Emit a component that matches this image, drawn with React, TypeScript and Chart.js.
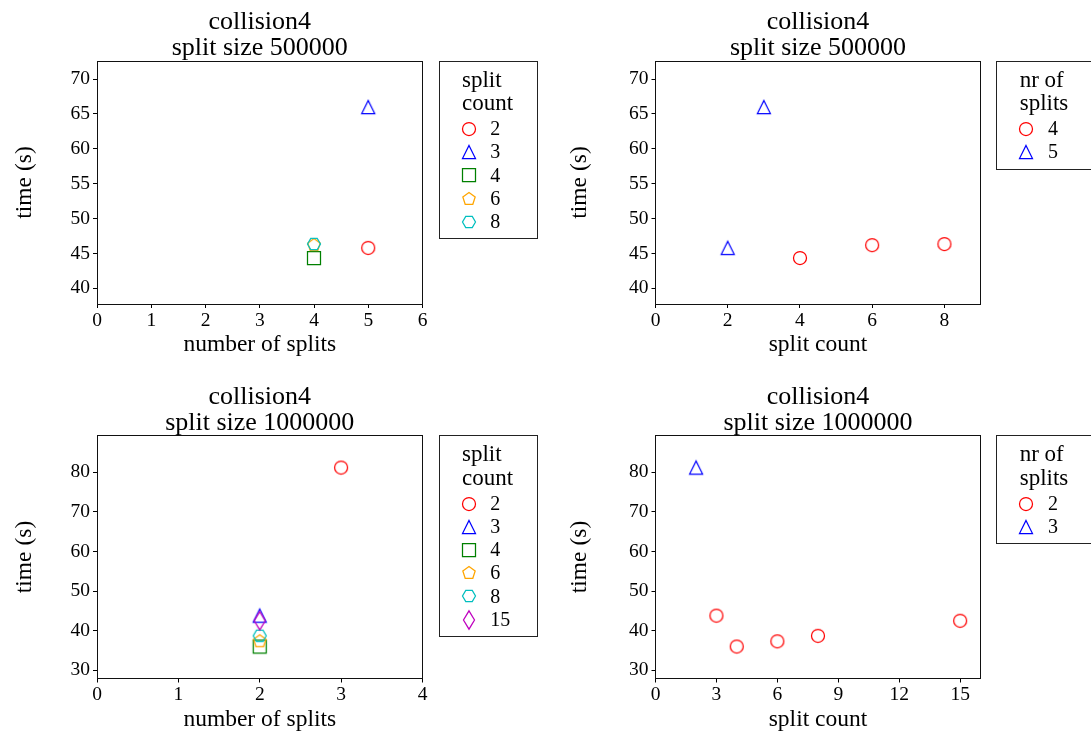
import React, { useEffect, useRef } from 'react';
import { Chart, registerables } from 'chart.js';

Chart.register(...registerables);

const FONT = "'Liberation Serif', 'Times New Roman', Times, serif";

// Runs with split size 500000: one entry per run
const SPLIT_COUNT_500K = [2, 3, 4, 6, 8];
const NUM_SPLITS_500K = [5, 5, 4, 4, 4];
const TIME_500K = [45.8, 66.0, 44.35, 46.2, 46.35];

// Runs with split size 1000000
const SPLIT_COUNT_1M = [2, 3, 4, 6, 8, 15];
const NUM_SPLITS_1M = [3, 2, 2, 2, 2, 2];
const TIME_1M = [81.2, 43.8, 36.0, 37.3, 38.7, 42.5];

// Axis ranges and tick labels
const Y_RANGE_500K = [37.75, 72.6];
const Y_RANGE_1M = [27.9, 89.3];
const Y_TICKS_500K = [40, 45, 50, 55, 60, 65, 70];
const Y_TICKS_1M = [30, 40, 50, 60, 70, 80];
const X_RANGE_SPLITS_500K = [0, 6];
const X_TICKS_SPLITS_500K = [0, 1, 2, 3, 4, 5, 6];
const X_RANGE_COUNT_500K = [0, 9];
const X_TICKS_COUNT_500K = [0, 2, 4, 6, 8];
const X_RANGE_SPLITS_1M = [0, 4];
const X_TICKS_SPLITS_1M = [0, 1, 2, 3, 4];
const X_RANGE_COUNT_1M = [0, 16];
const X_TICKS_COUNT_1M = [0, 3, 6, 9, 12, 15];

type Shape = 'circle' | 'triangle' | 'square' | 'pentagon' | 'hexagon' | 'thinDiamond';
type Style = { shape: Shape; color: string };
type Pt = { x: number; y: number };
type Series = { label: string; style: Style; points: Pt[] };

const COUNT_STYLE: Record<number, Style> = {
  2: { shape: 'circle', color: '#ff0000' },
  3: { shape: 'triangle', color: '#0000ff' },
  4: { shape: 'square', color: '#008000' },
  6: { shape: 'pentagon', color: '#ffa500' },
  8: { shape: 'hexagon', color: '#00bfbf' },
  15: { shape: 'thinDiamond', color: '#bf00bf' },
};
const SPLITS_STYLE: Style[] = [
  { shape: 'circle', color: '#ff0000' },
  { shape: 'triangle', color: '#0000ff' },
];

function seriesByCount(counts: number[], splits: number[], times: number[]): Series[] {
  return counts.map((c, i) => ({
    label: String(c),
    style: COUNT_STYLE[c],
    points: [{ x: splits[i], y: times[i] }],
  }));
}

function seriesBySplits(counts: number[], splits: number[], times: number[]): Series[] {
  const groups = Array.from(new Set(splits)).sort((a, b) => a - b);
  return groups.map((s, gi) => ({
    label: String(s),
    style: SPLITS_STYLE[gi],
    points: counts
      .map((c, i) => ({ x: c, y: times[i], s: splits[i] }))
      .filter((p) => p.s === s)
      .map(({ x, y }) => ({ x, y })),
  }));
}

// Outline marker sprites, sized like markersize 13 with a thin edge
const MARK = 13;
const SPRITE = 24;
const spriteCache = new Map<string, HTMLCanvasElement>();
function markerSprite(style: Style): HTMLCanvasElement {
  const key = style.shape + style.color;
  const hit = spriteCache.get(key);
  if (hit) return hit;
  const c = document.createElement('canvas');
  c.width = SPRITE;
  c.height = SPRITE;
  const g = c.getContext('2d')!;
  g.translate(SPRITE / 2, SPRITE / 2);
  g.strokeStyle = style.color;
  g.lineWidth = 1.25;
  g.lineJoin = 'miter';
  const h = MARK / 2;
  g.beginPath();
  const poly = (n: number, r: number, start: number) => {
    for (let k = 0; k < n; k++) {
      const a = start + (k * 2 * Math.PI) / n;
      const px = r * Math.cos(a);
      const py = r * Math.sin(a);
      if (k === 0) g.moveTo(px, py);
      else g.lineTo(px, py);
    }
    g.closePath();
  };
  switch (style.shape) {
    case 'circle':
      g.arc(0, 0, h, 0, Math.PI * 2);
      break;
    case 'triangle':
      g.moveTo(0, -h);
      g.lineTo(h, h);
      g.lineTo(-h, h);
      g.closePath();
      break;
    case 'square':
      g.rect(-h, -h, MARK, MARK);
      break;
    case 'pentagon':
      poly(5, h, -Math.PI / 2);
      break;
    case 'hexagon':
      poly(6, h, 0);
      break;
    case 'thinDiamond': {
      const dy = h * Math.SQRT2;
      const dx = dy * 0.6;
      g.moveTo(0, -dy);
      g.lineTo(dx, 0);
      g.lineTo(0, dy);
      g.lineTo(-dx, 0);
      g.closePath();
      break;
    }
  }
  g.stroke();
  spriteCache.set(key, c);
  return c;
}

type Panel = {
  id: string;
  canvas: { x: number; y: number; w: number; h: number };
  plot: { l: number; t: number; r: number; b: number };
  title: string[];
  xLabel: string;
  xRange: number[];
  xTicks: number[];
  yRange: number[];
  yTicks: number[];
  yTitleX: number;
  legendTitle: string[];
  legendLeft: number;
  series: Series[];
};

const PANELS: Panel[] = [
  {
    id: 'splits-500k',
    canvas: { x: 0, y: 0, w: 545, h: 366 },
    plot: { l: 97, t: 61, r: 422.5, b: 304 },
    title: ['collision4', 'split size 500000'],
    xLabel: 'number of splits',
    xRange: X_RANGE_SPLITS_500K,
    xTicks: X_TICKS_SPLITS_500K,
    yRange: Y_RANGE_500K,
    yTicks: Y_TICKS_500K,
    yTitleX: 24.5,
    legendTitle: ['split', 'count'],
    legendLeft: 439,
    series: seriesByCount(SPLIT_COUNT_500K, NUM_SPLITS_500K, TIME_500K),
  },
  {
    id: 'count-500k',
    canvas: { x: 545, y: 0, w: 546, h: 366 },
    plot: { l: 655.5, t: 61, r: 980.5, b: 304 },
    title: ['collision4', 'split size 500000'],
    xLabel: 'split count',
    xRange: X_RANGE_COUNT_500K,
    xTicks: X_TICKS_COUNT_500K,
    yRange: Y_RANGE_500K,
    yTicks: Y_TICKS_500K,
    yTitleX: 580,
    legendTitle: ['nr of', 'splits'],
    legendLeft: 996.7,
    series: seriesBySplits(SPLIT_COUNT_500K, NUM_SPLITS_500K, TIME_500K),
  },
  {
    id: 'splits-1m',
    canvas: { x: 0, y: 366, w: 545, h: 367 },
    plot: { l: 97, t: 435.5, r: 422.5, b: 678.5 },
    title: ['collision4', 'split size 1000000'],
    xLabel: 'number of splits',
    xRange: X_RANGE_SPLITS_1M,
    xTicks: X_TICKS_SPLITS_1M,
    yRange: Y_RANGE_1M,
    yTicks: Y_TICKS_1M,
    yTitleX: 24.5,
    legendTitle: ['split', 'count'],
    legendLeft: 439,
    series: seriesByCount(SPLIT_COUNT_1M, NUM_SPLITS_1M, TIME_1M),
  },
  {
    id: 'count-1m',
    canvas: { x: 545, y: 366, w: 546, h: 367 },
    plot: { l: 655.5, t: 435.5, r: 980.5, b: 678.5 },
    title: ['collision4', 'split size 1000000'],
    xLabel: 'split count',
    xRange: X_RANGE_COUNT_1M,
    xTicks: X_TICKS_COUNT_1M,
    yRange: Y_RANGE_1M,
    yTicks: Y_TICKS_1M,
    yTitleX: 580,
    legendTitle: ['nr of', 'splits'],
    legendLeft: 996.7,
    series: seriesBySplits(SPLIT_COUNT_1M, NUM_SPLITS_1M, TIME_1M),
  },
];

const TICK_SIZE = 19.5;
const AXIS_TITLE_SIZE = 23.5;
const TITLE_SIZE = 26;
const LEGEND_TITLE_SIZE = 23;
const LEGEND_ITEM_SIZE = 20;

const crisp = (v: number) => Math.floor(v) + 0.5;

// Frame, two-line title and boxed legend for one panel
function makeDecor(p: Panel) {
  const ox = p.canvas.x;
  const oy = p.canvas.y;
  return {
    id: 'panelDecor',
    afterDatasetsDraw(chart: Chart) {
      const { ctx, chartArea: a } = chart;
      ctx.save();
      ctx.strokeStyle = '#111';
      ctx.lineWidth = 1;
      ctx.strokeRect(crisp(a.left), crisp(a.top), crisp(a.right) - crisp(a.left), crisp(a.bottom) - crisp(a.top));

      // title
      ctx.fillStyle = '#000';
      ctx.font = `${TITLE_SIZE}px ${FONT}`;
      ctx.textAlign = 'center';
      ctx.textBaseline = 'alphabetic';
      const cx = (a.left + a.right) / 2;
      ctx.fillText(p.title[0], cx, a.top - 32);
      ctx.fillText(p.title[1], cx, a.top - 6);

      // legend
      const t = p.plot.t - oy;
      const bl = p.legendLeft - ox;
      const step = 23.2;
      const firstRow = t + 68;
      const bb = firstRow + (p.series.length - 1) * step + 17;
      ctx.fillStyle = '#fff';
      ctx.fillRect(crisp(bl), crisp(t), 98, crisp(bb) - crisp(t));
      ctx.strokeStyle = '#222';
      ctx.strokeRect(crisp(bl), crisp(t), 98, crisp(bb) - crisp(t));
      ctx.fillStyle = '#000';
      ctx.textAlign = 'left';
      ctx.font = `${LEGEND_TITLE_SIZE}px ${FONT}`;
      ctx.fillText(p.legendTitle[0], bl + 23, t + 25.7);
      ctx.fillText(p.legendTitle[1], bl + 23, t + 49);
      ctx.font = `${LEGEND_ITEM_SIZE}px ${FONT}`;
      ctx.textBaseline = 'middle';
      p.series.forEach((s, i) => {
        const ry = firstRow + i * step;
        const img = markerSprite(s.style);
        ctx.drawImage(img, Math.round(bl + 29.6 - SPRITE / 2), Math.round(ry - SPRITE / 2));
        ctx.fillText(s.label, bl + 51.3, ry + 1);
      });
      ctx.restore();
    },
  };
}

function buildConfig(p: Panel): any {
  const L = p.plot.l - p.canvas.x;
  const T = p.plot.t - p.canvas.y;
  const R = p.canvas.x + p.canvas.w - p.plot.r;
  const B = p.canvas.y + p.canvas.h - p.plot.b;
  const yTitlePad = p.yTitleX - p.canvas.x - AXIS_TITLE_SIZE / 2;
  const xTitleCenter = p.plot.b + 41 - p.canvas.y;
  const xTitlePad = p.canvas.h - xTitleCenter - AXIS_TITLE_SIZE / 2;

  const tickFont = { family: FONT, size: TICK_SIZE };
  const grid = { drawOnChartArea: false, drawTicks: true, tickLength: 4, color: '#000', lineWidth: 1 };

  return {
    type: 'scatter',
    data: {
      datasets: p.series.map((s, i) => ({
        label: s.label,
        data: s.points,
        pointStyle: markerSprite(s.style),
        pointRadius: 7,
        pointHoverRadius: 7,
        borderColor: s.style.color,
        backgroundColor: 'transparent',
        showLine: false,
        order: -i,
      })),
    },
    options: {
      responsive: false,
      animation: false,
      events: [],
      layout: { padding: { left: 0, top: T, right: R, bottom: 0 } },
      plugins: { legend: { display: false }, tooltip: { enabled: false }, title: { display: false } },
      scales: {
        x: {
          type: 'linear',
          position: 'bottom',
          min: p.xRange[0],
          max: p.xRange[1],
          afterBuildTicks: (s: any) => {
            s.ticks = p.xTicks.map((v) => ({ value: v }));
          },
          afterFit: (s: any) => {
            s.height = B;
          },
          grid,
          border: { display: false },
          ticks: { font: tickFont, color: '#000', padding: 1, autoSkip: false, maxRotation: 0, callback: (v: any) => String(v) },
          title: {
            display: true,
            text: p.xLabel,
            color: '#000',
            font: { family: FONT, size: AXIS_TITLE_SIZE, lineHeight: 1 },
            padding: { top: 0, bottom: xTitlePad },
          },
        },
        y: {
          type: 'linear',
          position: 'left',
          min: p.yRange[0],
          max: p.yRange[1],
          afterBuildTicks: (s: any) => {
            s.ticks = p.yTicks.map((v) => ({ value: v }));
          },
          afterFit: (s: any) => {
            s.width = L;
          },
          grid,
          border: { display: false },
          ticks: { font: tickFont, color: '#000', padding: 3, autoSkip: false, maxRotation: 0, callback: (v: any) => String(v) },
          title: {
            display: true,
            text: 'time (s)',
            color: '#000',
            font: { family: FONT, size: AXIS_TITLE_SIZE, lineHeight: 1 },
            padding: { top: yTitlePad, bottom: 0 },
          },
        },
      },
    },
    plugins: [makeDecor(p)],
  };
}

function PanelChart({ panel }: { panel: Panel }) {
  const ref = useRef<HTMLCanvasElement>(null);
  useEffect(() => {
    if (!ref.current) return;
    const chart = new Chart(ref.current, buildConfig(panel));
    return () => chart.destroy();
  }, [panel]);
  return (
    <canvas
      ref={ref}
      width={panel.canvas.w}
      height={panel.canvas.h}
      style={{
        position: 'absolute',
        left: panel.canvas.x,
        top: panel.canvas.y,
        width: panel.canvas.w,
        height: panel.canvas.h,
      }}
    />
  );
}

export default function App() {
  useEffect(() => {
    document.body.style.margin = '0';
  }, []);
  return (
    <div
      style={{
        position: 'absolute',
        left: 0,
        top: 0,
        width: 1091,
        height: 733,
        background: '#fff',
        overflow: 'hidden',
      }}
    >
      {PANELS.map((p) => (
        <PanelChart key={p.id} panel={p} />
      ))}
    </div>
  );
}
